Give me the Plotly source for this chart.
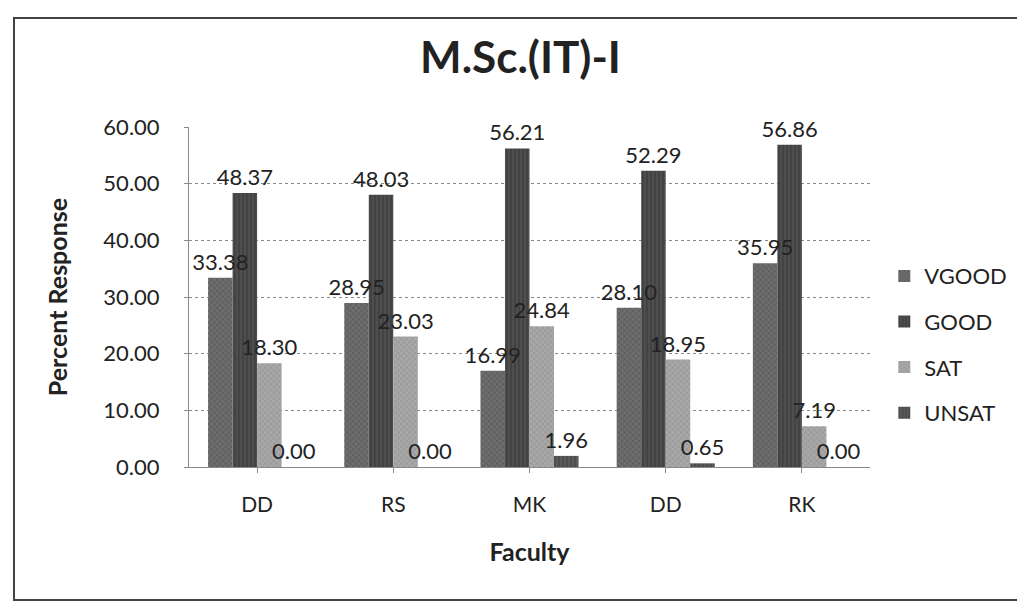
import plotly.graph_objects as go

faculty = ["DD", "RS", "MK", "DD", "RK"]
series_names = ["VGOOD", "GOOD", "SAT", "UNSAT"]
vgood = [33.38, 28.95, 16.99, 28.10, 35.95]
good = [48.37, 48.03, 56.21, 52.29, 56.86]
sat = [18.30, 23.03, 24.84, 18.95, 7.19]
unsat = [0.00, 0.00, 1.96, 0.65, 0.00]
y_ticks = [0, 10, 20, 30, 40, 50, 60]

styles = {
    "VGOOD": dict(bg="#6e6e6e", fg="#3a3a3a", shape="x"),
    "GOOD": dict(bg="#4e4e4e", fg="#262626", shape="|"),
    "SAT": dict(bg="#a8a8a8", fg="#7a7a7a", shape="x"),
    "UNSAT": dict(bg="#5a5a5a", fg="#2e2e2e", shape="|"),
}
FONT = "Lato, Open Sans, sans-serif"

positions = list(range(len(faculty)))
all_vals = [vgood, good, sat, unsat]
fig = go.Figure()
# bars
for name, vals in zip(series_names, all_vals):
    s = styles[name]
    fig.add_trace(go.Bar(
        x=positions, y=vals, name=name, legendgroup=name, offsetgroup=name,
        marker=dict(color=s["bg"], line=dict(width=0),
                    pattern=dict(shape=s["shape"], fgcolor=s["fg"], bgcolor=s["bg"], size=4, solidity=0.3)),
        hoverinfo="skip",
    ))
# data labels drawn on top of all bars (same offset groups, transparent)
for name, vals in zip(series_names, all_vals):
    fig.add_trace(go.Bar(
        x=positions, y=vals, name=name, legendgroup=name, offsetgroup=name, showlegend=False,
        marker=dict(color="rgba(0,0,0,0)", line=dict(width=0)),
        texttemplate="%{y:.2f}", textposition="outside", cliponaxis=False,
        textfont=dict(family=FONT, size=22, color="#222"),
    ))

fig.update_layout(
    width=1025, height=603,
    paper_bgcolor="white", plot_bgcolor="white",
    margin=dict(l=181, r=163, t=119, b=144),
    barmode="group", bargap=0.28, bargroupgap=0,
    uniformtext=dict(minsize=22, mode="show"),
    title=dict(text="<b>M.Sc.(IT)-I</b>", x=0.5, xanchor="center", y=0.918, yanchor="middle",
               font=dict(family=FONT, size=44, color="#222")),
    font=dict(family=FONT, size=21, color="#222"),
    legend=dict(x=1.021, xanchor="left", y=0.36, yanchor="middle",
                traceorder="grouped", tracegroupgap=14,
                font=dict(size=22, color="#222"), bgcolor="rgba(0,0,0,0)"),
    showlegend=True,
)
fig.update_xaxes(
    tickmode="array", tickvals=positions, ticktext=faculty,
    range=[-0.5, len(faculty) - 0.5],
    showline=True, linecolor="#888", linewidth=1, ticks="outside", ticklen=5, tickcolor="#888",
    ticklabelstandoff=14,
    showgrid=False, tickfont=dict(size=21),
    title=dict(text="<b>Faculty</b>", font=dict(size=25), standoff=28),
)
fig.update_yaxes(
    range=[0, 60], tickmode="array", tickvals=y_ticks, tickformat=".2f",
    showline=True, linecolor="#888", linewidth=1, ticks="outside", ticklen=4, tickcolor="#888",
    ticklabelstandoff=20,
    showgrid=True, gridcolor="#888", gridwidth=1, griddash="dot",
    tickfont=dict(size=22),
    title=dict(text="<b>Percent Response</b>", font=dict(size=25), standoff=28),
)
# outer chart frame
fig.add_shape(type="rect", xref="paper", yref="paper",
              x0=(6 - 181) / 681, x1=(1020 - 181) / 681,
              y0=(459 - 592) / 340, y1=(459 - 10) / 340,
              line=dict(color="#444", width=2), fillcolor="rgba(0,0,0,0)", layer="below")

fig.write_html("out.html")
